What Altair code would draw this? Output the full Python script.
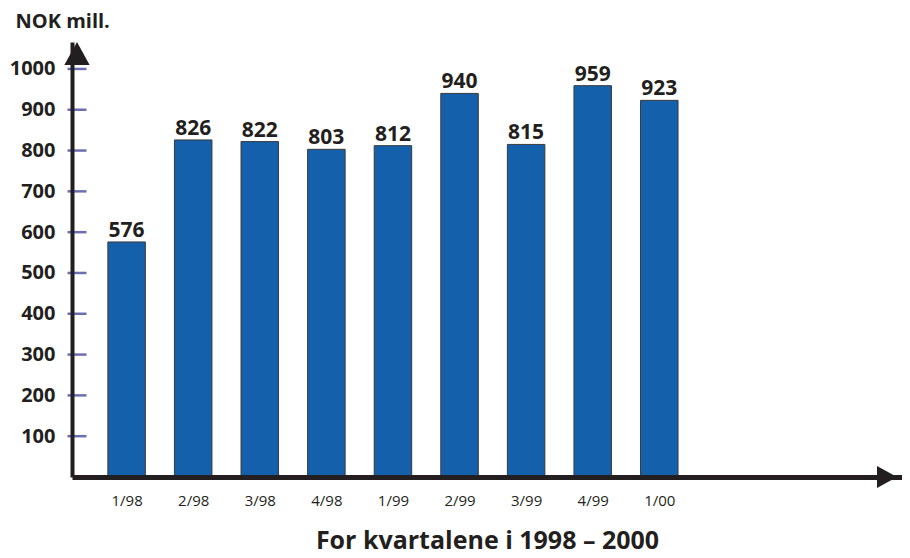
import json
import altair as alt
import pandas as pd

# ---- data ----
quarters = ["1/98", "2/98", "3/98", "4/98", "1/99", "2/99", "3/99", "4/99", "1/00"]
values = [576, 826, 822, 803, 812, 940, 815, 959, 923]
positions = [1, 2, 3, 4, 5, 6, 7, 8, 9]
y_ticks = [100, 200, 300, 400, 500, 600, 700, 800, 900, 1000]
x_domain = [0.255, 12.57]
y_domain = [0, 1066]

FONT = "Open Sans"
INK = "#231f20"

df = pd.DataFrame({"pos": positions, "quarter": quarters, "value": values})
ticks_df = pd.DataFrame({"t": y_ticks})
yarrow_df = pd.DataFrame({"x": [x_domain[0]], "y": [y_domain[1]]})
xarrow_df = pd.DataFrame({"x": [x_domain[1]], "y": [y_domain[0]]})

label_expr = json.dumps(quarters) + "[datum.value - 1]"

xscale = alt.Scale(domain=x_domain, nice=False, zero=False)
yscale = alt.Scale(domain=y_domain, nice=False, zero=False)

xaxis = alt.Axis(
    values=positions, labelExpr=label_expr, ticks=False, grid=False,
    domainWidth=5, domainColor=INK, labelPadding=16, labelFont=FONT,
    labelFontSize=15, labelColor=INK, title="For kvartalene i 1998 \u2013 2000",
    titleFont=FONT, titleFontSize=25, titleFontWeight="bold", titleColor=INK,
    titlePadding=20, zindex=1,
)
yaxis = alt.Axis(
    values=y_ticks, format="d", ticks=False, grid=False, domainWidth=4,
    domainColor=INK, labelPadding=17, labelFont=FONT, labelFontSize=20,
    labelFontWeight="bold", labelColor=INK, title="NOK mill.", titleAngle=0,
    titleAlign="left", titleBaseline="middle", titleX=-57, titleY=-21,
    titleFont=FONT, titleFontSize=20, titleFontWeight="bold", titleColor=INK,
    zindex=1,
)

base = alt.Chart(df)

bars = base.mark_bar(size=37.5, color="#1560ab", stroke="#3a3a3a", strokeWidth=1).encode(
    x=alt.X("pos:Q", scale=xscale, axis=xaxis),
    y=alt.Y("value:Q", scale=yscale, axis=yaxis),
)

labels = base.mark_text(
    baseline="bottom", dy=-1, font=FONT, fontSize=21, fontWeight="bold", color=INK
).encode(
    x=alt.X("pos:Q", scale=xscale),
    y=alt.Y("value:Q", scale=yscale),
    text=alt.Text("value:Q"),
)

yticks = alt.Chart(ticks_df).mark_tick(
    orient="horizontal", size=19, thickness=2.5, color="#2e3192"
).encode(
    x=alt.datum(x_domain[0], scale=xscale),
    y=alt.Y("t:Q", scale=yscale),
)

yarrow = alt.Chart(yarrow_df).mark_point(
    shape="M0,0 L1.1,2 L-1.1,2 Z", size=529, filled=True, color=INK, opacity=1
).encode(
    x=alt.X("x:Q", scale=xscale), y=alt.Y("y:Q", scale=yscale)
)
xarrow = alt.Chart(xarrow_df).mark_point(
    shape="M0,0 L-2,-1.1 L-2,1.1 Z", size=400, filled=True, color=INK, opacity=1
).encode(
    x=alt.X("x:Q", scale=xscale), y=alt.Y("y:Q", scale=yscale)
)

chart = alt.layer(yticks, bars, labels, yarrow, xarrow).properties(
    width=830, height=435,
    autosize=alt.AutoSizeParams(type="none"),
    padding={"left": 64, "top": 34, "right": 0, "bottom": 77},
).configure_view(stroke=None)

chart.save("out.html", embed_options={"renderer": "svg", "actions": False})
